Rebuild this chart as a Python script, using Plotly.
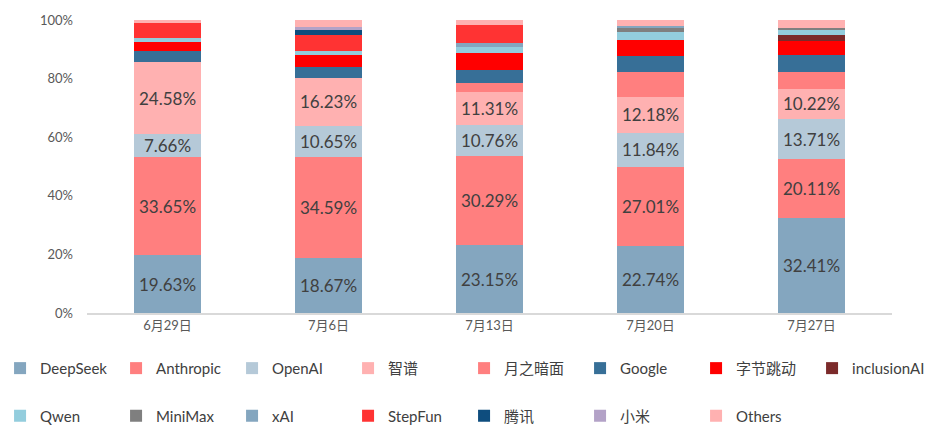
import plotly.graph_objects as go

dates = ["6月29日", "7月6日", "7月13日", "7月20日", "7月27日"]

deepseek = [19.63, 18.67, 23.15, 22.74, 32.41]
anthropic = [33.65, 34.59, 30.29, 27.01, 20.11]
openai = [7.66, 10.65, 10.76, 11.84, 13.71]
zhipu = [24.58, 16.23, 11.31, 12.18, 10.22]
moonshot = [0, 0, 2.93, 8.44, 5.83]
google = [3.90, 3.87, 4.38, 5.63, 5.61]
bytedance = [3.00, 4.20, 6.07, 5.40, 5.05]
inclusion = [0, 0, 0, 0, 1.79]
qwen = [1.44, 1.09, 2.02, 2.70, 2.02]
minimax = [0, 0, 0, 1.35, 0.67]
xai = [0, 0, 1.35, 0.68, 0]
stepfun = [5.24, 5.73, 6.07, 0, 0]
tencent = [0, 1.66, 0, 0, 0]
xiaomi = [0, 0.89, 0, 0, 0]
others = [0.90, 2.42, 1.68, 2.03, 2.58]

series = [
    ("DeepSeek", deepseek, "#84A6BF", True),
    ("Anthropic", anthropic, "#FF7F7F", True),
    ("OpenAI", openai, "#B5C9D8", True),
    ("智谱", zhipu, "#FFB1B1", True),
    ("月之暗面", moonshot, "#FF7F7F", False),
    ("Google", google, "#376F97", False),
    ("字节跳动", bytedance, "#FF0000", False),
    ("inclusionAI", inclusion, "#7B2A2A", False),
    ("Qwen", qwen, "#93CDDD", False),
    ("MiniMax", minimax, "#7F7F7F", False),
    ("xAI", xai, "#84A6BF", False),
    ("StepFun", stepfun, "#FF3333", False),
    ("腾讯", tencent, "#0E4D7E", False),
    ("小米", xiaomi, "#B3A2C7", False),
    ("Others", others, "#FFB1B1", False),
]

FONT = "Lato, Noto Sans CJK SC"
# 4 legends, each 4 items wide, so two rows of 8 + 7 like the original
legend_ids = ["legend", "legend2", "legend3", "legend4"]

fig = go.Figure()
for i, (name, vals, color, labelled) in enumerate(series):
    fig.add_trace(go.Bar(
        x=dates, y=vals, name=name,
        marker=dict(color=color, line=dict(width=0)),
        texttemplate="%{y:.2f}%" if labelled else None,
        textposition="inside" if labelled else "none",
        insidetextanchor="middle",
        constraintext="none",
        textfont=dict(size=17, color="#404040", family=FONT),
        legend=legend_ids[i // 4] if i < 8 else legend_ids[2 + (i - 8) // 4],
    ))

legend_style = dict(
    orientation="h", traceorder="normal",
    font=dict(size=15, color="#404040", family=FONT),
    entrywidth=71, entrywidthmode="pixels",
    xanchor="left", yanchor="middle", itemwidth=30,
    bgcolor="rgba(0,0,0,0)",
)

x_left = -0.108
x_right = x_left + 4 * 116 / 805
row1 = -0.189
row2 = -0.3516

fig.update_layout(
    width=934, height=440,
    margin=dict(l=79, r=50, t=12, b=134.5, autoexpand=False),
    barmode="stack", bargap=0.584,
    plot_bgcolor="white", paper_bgcolor="white",
    font=dict(family=FONT, color="#595959"),
    legend=dict(x=x_left, y=row1, **legend_style),
    legend2=dict(x=x_right, y=row1, **legend_style),
    legend3=dict(x=x_left, y=row2, **legend_style),
    legend4=dict(x=x_right, y=row2, **legend_style),
    xaxis=dict(
        showline=True, linecolor="#D9D9D9", linewidth=1.5,
        tickfont=dict(size=13, color="#595959"), ticks="",
    ),
    yaxis=dict(
        range=[0, 100], dtick=20, ticksuffix="%", showgrid=False,
        zeroline=False, ticks="", ticklabelstandoff=13,
        tickfont=dict(size=13, color="#595959"),
    ),
)

fig.write_html("out.html")
